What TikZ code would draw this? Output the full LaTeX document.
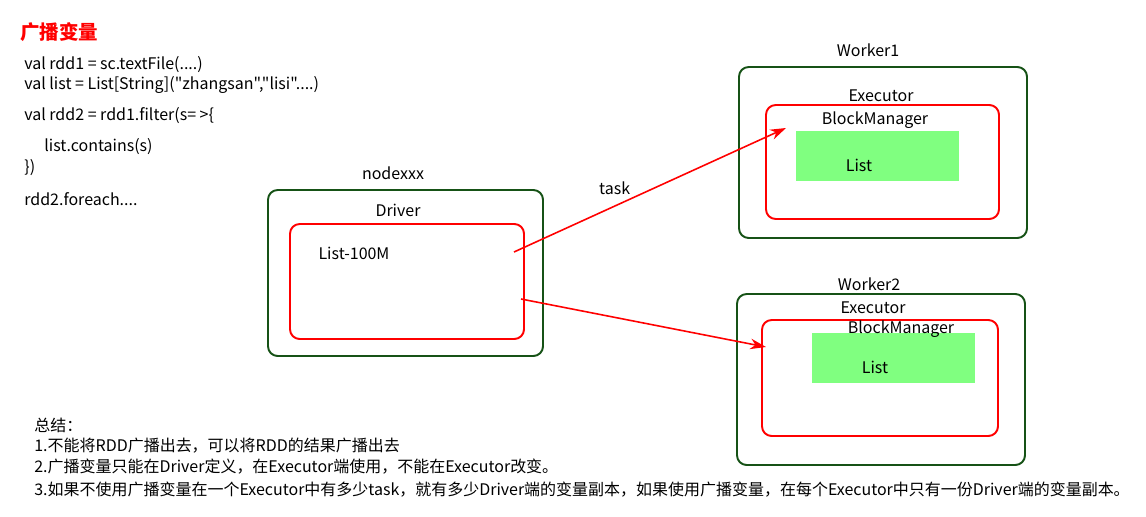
\documentclass[tikz,border=0pt]{standalone}
\usepackage{fontspec}
\setmainfont{Noto Sans CJK SC}[Ligatures=TeXOff]
\usetikzlibrary{positioning,fit,arrows.meta}
\definecolor{hostgreen}{RGB}{22,82,22}
\definecolor{listgreen}{RGB}{128,255,128}
\tikzset{
  host/.style={draw=hostgreen,line width=1.1pt,rounded corners=5.5pt,inner sep=0pt},
  proc/.style={draw=red,line width=1.1pt,rounded corners=5.5pt,inner sep=0pt},
  blk/.style={fill=listgreen,inner sep=0pt},
  txt/.style={font=\fontsize{9.1}{11}\selectfont,inner sep=0pt},
  code/.style={txt,anchor=west},
  tsk/.style={->,draw=red,line width=0.9pt},
}
\begin{document}
\begin{tikzpicture}[x=0.02cm,y=-0.02cm,>={Stealth[length=9pt,width=6pt]}]
   \useasboundingbox (0,0) rectangle (1146,517);
   % title and code
   \node[anchor=west,inner sep=0pt,text=red,font=\fontsize{11.1}{13}\bfseries] (title) at (20,32) {广播变量};
   \node[code] (c_1) at (24,65)  {val rdd1 = sc.textFile(....)};
   \node[code] (c_2) at (24,85)  {val list = List[String]("zhangsan","lisi"....)};
   \node[code] (c_3) at (24,116) {val rdd2 = rdd1.filter(s= >\{};
   \node[code] (c_4) at (44,147) {list.contains(s)};
   \node[code] (c_5) at (24,168) {\})};
   \node[code] (c_6) at (24,199) {rdd2.foreach....};

   % driver side
   \node[host,fit={(268,190) (543,356)}] (nd) {};
   \node[txt] (nd_l) at (393,173) {nodexxx};
   \node[txt] (drv_l) at (398,210) {Driver};
   \node[proc,fit={(290,224) (524,339)}] (drv) {};
   \node[txt] (lst) at (354,253) {List-100M};

   % worker 1
   \node[host,fit={(739,67) (1027,238)}] (w_1) {};
   \node[txt] (w_1l) at (868,50) {Worker1};
   \node[txt] (e_1l) at (881,96) {Executor};
   \node[proc,fit={(766,105) (999,219)}] (e_1) {};
   \node[blk,fit={(796,131) (959,181)}] (bm_1) {};
   \node[txt] (bm_1l) at (875,120) {BlockManager};
   \node[txt] (l_1) at (859,165) {List};

   % worker 2
   \node[host,fit={(737,294) (1025,465)}] (w_2) {};
   \node[txt] (w_2l) at (869,284) {Worker2};
   \node[txt] (e_2l) at (873,308) {Executor};
   \node[proc,fit={(762,320) (998,436)}] (e_2) {};
   \node[blk,fit={(812,333) (975,383)}] (bm_2) {};
   \node[txt] (bm_2l) at (901,329) {BlockManager};
   \node[txt] (l_2) at (875,367) {List};

   % task arrows
   \coordinate (s_1) at (514,252);
   \coordinate (s_2) at (521,299);
   \coordinate (t_1) at (786,128);
   \coordinate (t_2) at (766,347);
   \path
    (s_1) edge[tsk] node[txt,pos=0.37,above=6pt] {task} (t_1)
    (s_2) edge[tsk] (t_2);

   % summary
   \node[code] (s_0) at (34,425) {总结：};
   \node[code] (s_a) at (34,446) {1.不能将RDD广播出去，可以将RDD的结果广播出去};
   \node[code] (s_b) at (34,467) {2.广播变量只能在Driver定义，在Executor端使用，不能在Executor改变。};
   \node[code] (s_c) at (34,490) {3.如果不使用广播变量在一个Executor中有多少task，就有多少Driver端的变量副本，如果使用广播变量，在每个Executor中只有一份Driver端的变量副本。};
\end{tikzpicture}
\end{document}
